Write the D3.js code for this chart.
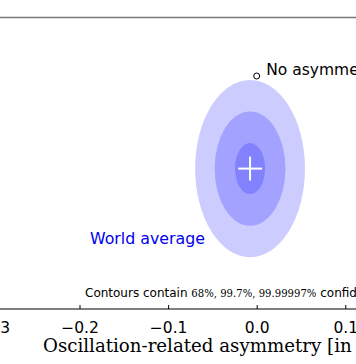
<!DOCTYPE html>
<html><head><meta charset="utf-8">
<script src="https://cdn.jsdelivr.net/npm/d3@7"></script>
<style>body{margin:0;background:#fff}svg{display:block}</style>
</head><body>
<svg id="c" width="356" height="364"></svg>
<script>
// Data
const xTicks = [-0.3, -0.2, -0.1, 0.0, 0.1];
const worldAvg = {x: -0.0075, y: -0.1045};
// contour semi-axes (x, y) for 68%, 99.7%, 99.99997%
const contourLevels = ["68%", "99.7%", "99.99997%"];
const contourRx = [0.0170, 0.0400, 0.0620];
const contourRy = [0.0288, 0.0645, 0.1000];
const crossHalf = [0.0135, 0.0135];
const noAsym = {x: 0, y: 0};

const svg = d3.select("#c");
const x = d3.scaleLinear().domain([-0.3, 0.1]).range([-9.1, 345.3]);
const y = d3.scaleLinear().domain([-0.3, 0.0]).range([341.8, 76]);
const kx = x(1) - x(0), ky = y(0) - y(1);

// top spine
svg.append("line").attr("x1",0).attr("x2",356).attr("y1",17.5).attr("y2",17.5)
  .attr("stroke","#777").attr("stroke-width",1.5);

// contours, outer first, stacked transparency
const g = svg.append("g");
[2,1,0].forEach(i => {
  g.append("ellipse")
    .attr("cx", x(worldAvg.x)).attr("cy", y(worldAvg.y))
    .attr("rx", contourRx[i]*kx).attr("ry", contourRy[i]*ky)
    .attr("fill", "#0000ff").attr("fill-opacity", 0.2);
});
// white cross
g.append("line").attr("x1", x(worldAvg.x - crossHalf[0])).attr("x2", x(worldAvg.x + crossHalf[0]))
  .attr("y1", y(worldAvg.y)).attr("y2", y(worldAvg.y)).attr("stroke","#fff").attr("stroke-width",2);
g.append("line").attr("x1", x(worldAvg.x)).attr("x2", x(worldAvg.x))
  .attr("y1", y(worldAvg.y - crossHalf[1])).attr("y2", y(worldAvg.y + crossHalf[1])).attr("stroke","#fff").attr("stroke-width",2);

// no asymmetry point
svg.append("circle").attr("cx", x(noAsym.x)).attr("cy", y(noAsym.y)).attr("r", 3)
  .attr("fill","#fff").attr("stroke","#000").attr("stroke-width",1);
svg.append("text").attr("x", x(noAsym.x)+9.5).attr("y", 75)
  .attr("font-family","DejaVu Sans").attr("font-size",15.5).attr("fill","#000").text("No asymmetry");

svg.append("text").attr("x", 90).attr("y", 244)
  .attr("font-family","DejaVu Sans").attr("font-size",15.8).attr("fill","#0000ee").text("World average");

// contour note
const note = svg.append("text").attr("x", 85).attr("y", 297).attr("font-size",12).attr("fill","#000");
note.append("tspan").attr("font-family","DejaVu Sans").text("Contours contain ");
note.append("tspan").attr("font-family","DejaVu Serif").attr("font-size",10.1).text(contourLevels.join(", "));
note.append("tspan").attr("font-family","DejaVu Sans").text(" confidence");

// x axis
const axis = d3.axisBottom(x).tickValues(xTicks).tickSize(-4).tickPadding(0)
  .tickFormat(d => d3.format(".1f")(d).replace("-", "\u2212"));
const ax = svg.append("g").attr("transform","translate(0,309)").call(axis);
ax.select(".domain").attr("stroke","#000").attr("stroke-width",1.2).attr("d","M-10,0H366");
ax.selectAll(".tick line").attr("stroke","#000");
ax.selectAll(".tick text").attr("font-family","DejaVu Sans").attr("font-size",15.5)
  .attr("fill","#000").attr("dy",null).attr("y",24);

svg.append("text").attr("x", 43).attr("y", 352)
  .attr("font-family","DejaVu Serif").attr("font-size",18.2).attr("fill","#000")
  .text("Oscillation-related asymmetry [in %]");
</script>
</body></html>
